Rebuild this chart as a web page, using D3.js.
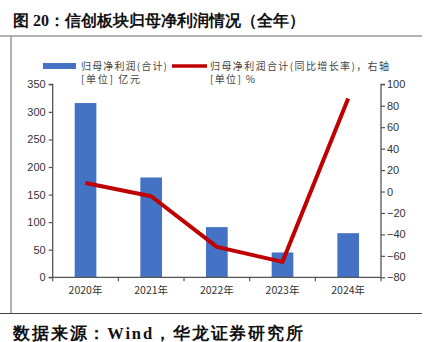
<!DOCTYPE html>
<html><head><meta charset="utf-8">
<script src="https://cdn.jsdelivr.net/npm/d3@7/dist/d3.min.js"></script>
<style>body{margin:0;background:#fff}svg{display:block}</style>
</head><body><svg id="c" width="430" height="342"></svg>
<script>
const categories = ["2020年","2021年","2022年","2023年","2024年"];
const profit = [316, 181, 91, 45, 80];
const growth = [8.0, -4.4, -51.6, -65.6, 86.7];
const leftTicks = [0,50,100,150,200,250,300,350];
const rightTicks = [-80,-60,-40,-20,0,20,40,60,80,100];

const svg = d3.select("#c");
const x0=52.7,x1=381,yTop=84.3,yBot=277.3;
const serif = "'Liberation Serif','DejaVu Serif',serif";
const sans = "'Liberation Sans',Arial,sans-serif";
const cjk = "'Noto Sans CJK SC',sans-serif";

// frame
svg.append("line").attr("x1",0).attr("x2",422).attr("y1",36).attr("y2",36).attr("stroke","#999").attr("stroke-width",1.5);
svg.append("line").attr("x1",11).attr("x2",11).attr("y1",36).attr("y2",313).attr("stroke","#999").attr("stroke-width",1.5);
svg.append("line").attr("x1",0).attr("x2",422).attr("y1",313.5).attr("y2",313.5).attr("stroke","#444").attr("stroke-width",1.2);

// title
svg.append("text").attr("x",13).attr("y",25.5).attr("font-family",serif).attr("font-weight","bold").attr("font-size",16).attr("fill","#111")
  .attr("textLength",292).attr("lengthAdjust","spacing")
  .text("图 20：信创板块归母净利润情况（全年）");
// footer
svg.append("text").attr("x",13).attr("y",339).attr("font-family",serif).attr("font-weight","bold").attr("font-size",16.5).attr("fill","#111")
  .attr("textLength",290).attr("lengthAdjust","spacing")
  .text("数据来源：Wind，华龙证券研究所");

const x = d3.scaleBand().domain(categories).range([x0,x1]).paddingInner(0.67).paddingOuter(0.335);
const xb = d3.scaleBand().domain(categories).range([x0,x1]);
const yL = d3.scaleLinear().domain([0,350]).range([yBot,yTop]);
const yR = d3.scaleLinear().domain([-80,100]).range([yBot,yTop]);

// bars
svg.append("g").selectAll("rect").data(profit).join("rect")
  .attr("x",(d,i)=>xb(categories[i])+xb.bandwidth()/2-x.bandwidth()/2)
  .attr("width",x.bandwidth())
  .attr("y",d=>yL(d)).attr("height",d=>yBot-yL(d))
  .attr("fill","#4472c4");

// line
const line = d3.line().x((d,i)=>xb(categories[i])+xb.bandwidth()/2).y(d=>yR(d));
svg.append("path").datum(growth).attr("d",line).attr("fill","none").attr("stroke","#c00000").attr("stroke-width",4).attr("stroke-linejoin","round");

// axes
const axColor="#555";
const gL = svg.append("g").attr("transform",`translate(${x0},0)`).call(d3.axisLeft(yL).tickValues(leftTicks).tickSize(4).tickPadding(3));
const gR = svg.append("g").attr("transform",`translate(${x1},0)`).call(d3.axisRight(yR).tickValues(rightTicks).tickSize(4).tickPadding(2).tickFormat(d=>d<0?"\u2212"+Math.abs(d):d));
const gX = svg.append("g").attr("transform",`translate(0,${yBot})`).call(d3.axisBottom(xb).tickSize(0).tickPadding(9));
[gL,gR,gX].forEach(g=>{
  g.selectAll("path.domain").attr("stroke",axColor).attr("stroke-width",1.3);
  g.selectAll(".tick line").attr("stroke",axColor).attr("stroke-width",1.2);
  g.selectAll("text").attr("font-family",sans).attr("font-size",11).attr("fill","#333");
});
gL.select("path.domain").attr("d",`M-4,${yTop}H0V${yBot}`);
gR.select("path.domain").attr("d",`M4,${yTop}H0V${yBot}`);
gX.select("path.domain").attr("d",`M${x0-4},0H${x1}`);
gX.selectAll("text").attr("font-family",cjk).attr("font-size",10.5);
svg.append("g").selectAll("line").data(d3.range(categories.length+1)).join("line")
  .attr("x1",i=>x0+i*xb.step()).attr("x2",i=>x0+i*xb.step())
  .attr("y1",yBot).attr("y2",yBot+4).attr("stroke",axColor).attr("stroke-width",1.2);

// legend
const lg = svg.append("g").attr("font-family",cjk).attr("font-size",10).attr("fill","#444");
lg.append("rect").attr("x",43).attr("y",63).attr("width",33).attr("height",6).attr("fill","#4472c4");
lg.append("text").attr("x",81).attr("y",69.5).attr("textLength",86).attr("lengthAdjust","spacing").text("归母净利润(合计)");
lg.append("text").attr("x",81).attr("y",83).attr("textLength",59).attr("lengthAdjust","spacing").text("[单位] 亿元");
lg.append("line").attr("x1",172).attr("x2",207).attr("y1",66).attr("y2",66).attr("stroke","#c00000").attr("stroke-width",3.5);
lg.append("text").attr("x",210).attr("y",69.5).attr("textLength",179).attr("lengthAdjust","spacing").text("归母净利润合计(同比增长率)，右轴");
lg.append("text").attr("x",210).attr("y",83).attr("textLength",45).attr("lengthAdjust","spacing").text("[单位] %");
</script></body></html>
